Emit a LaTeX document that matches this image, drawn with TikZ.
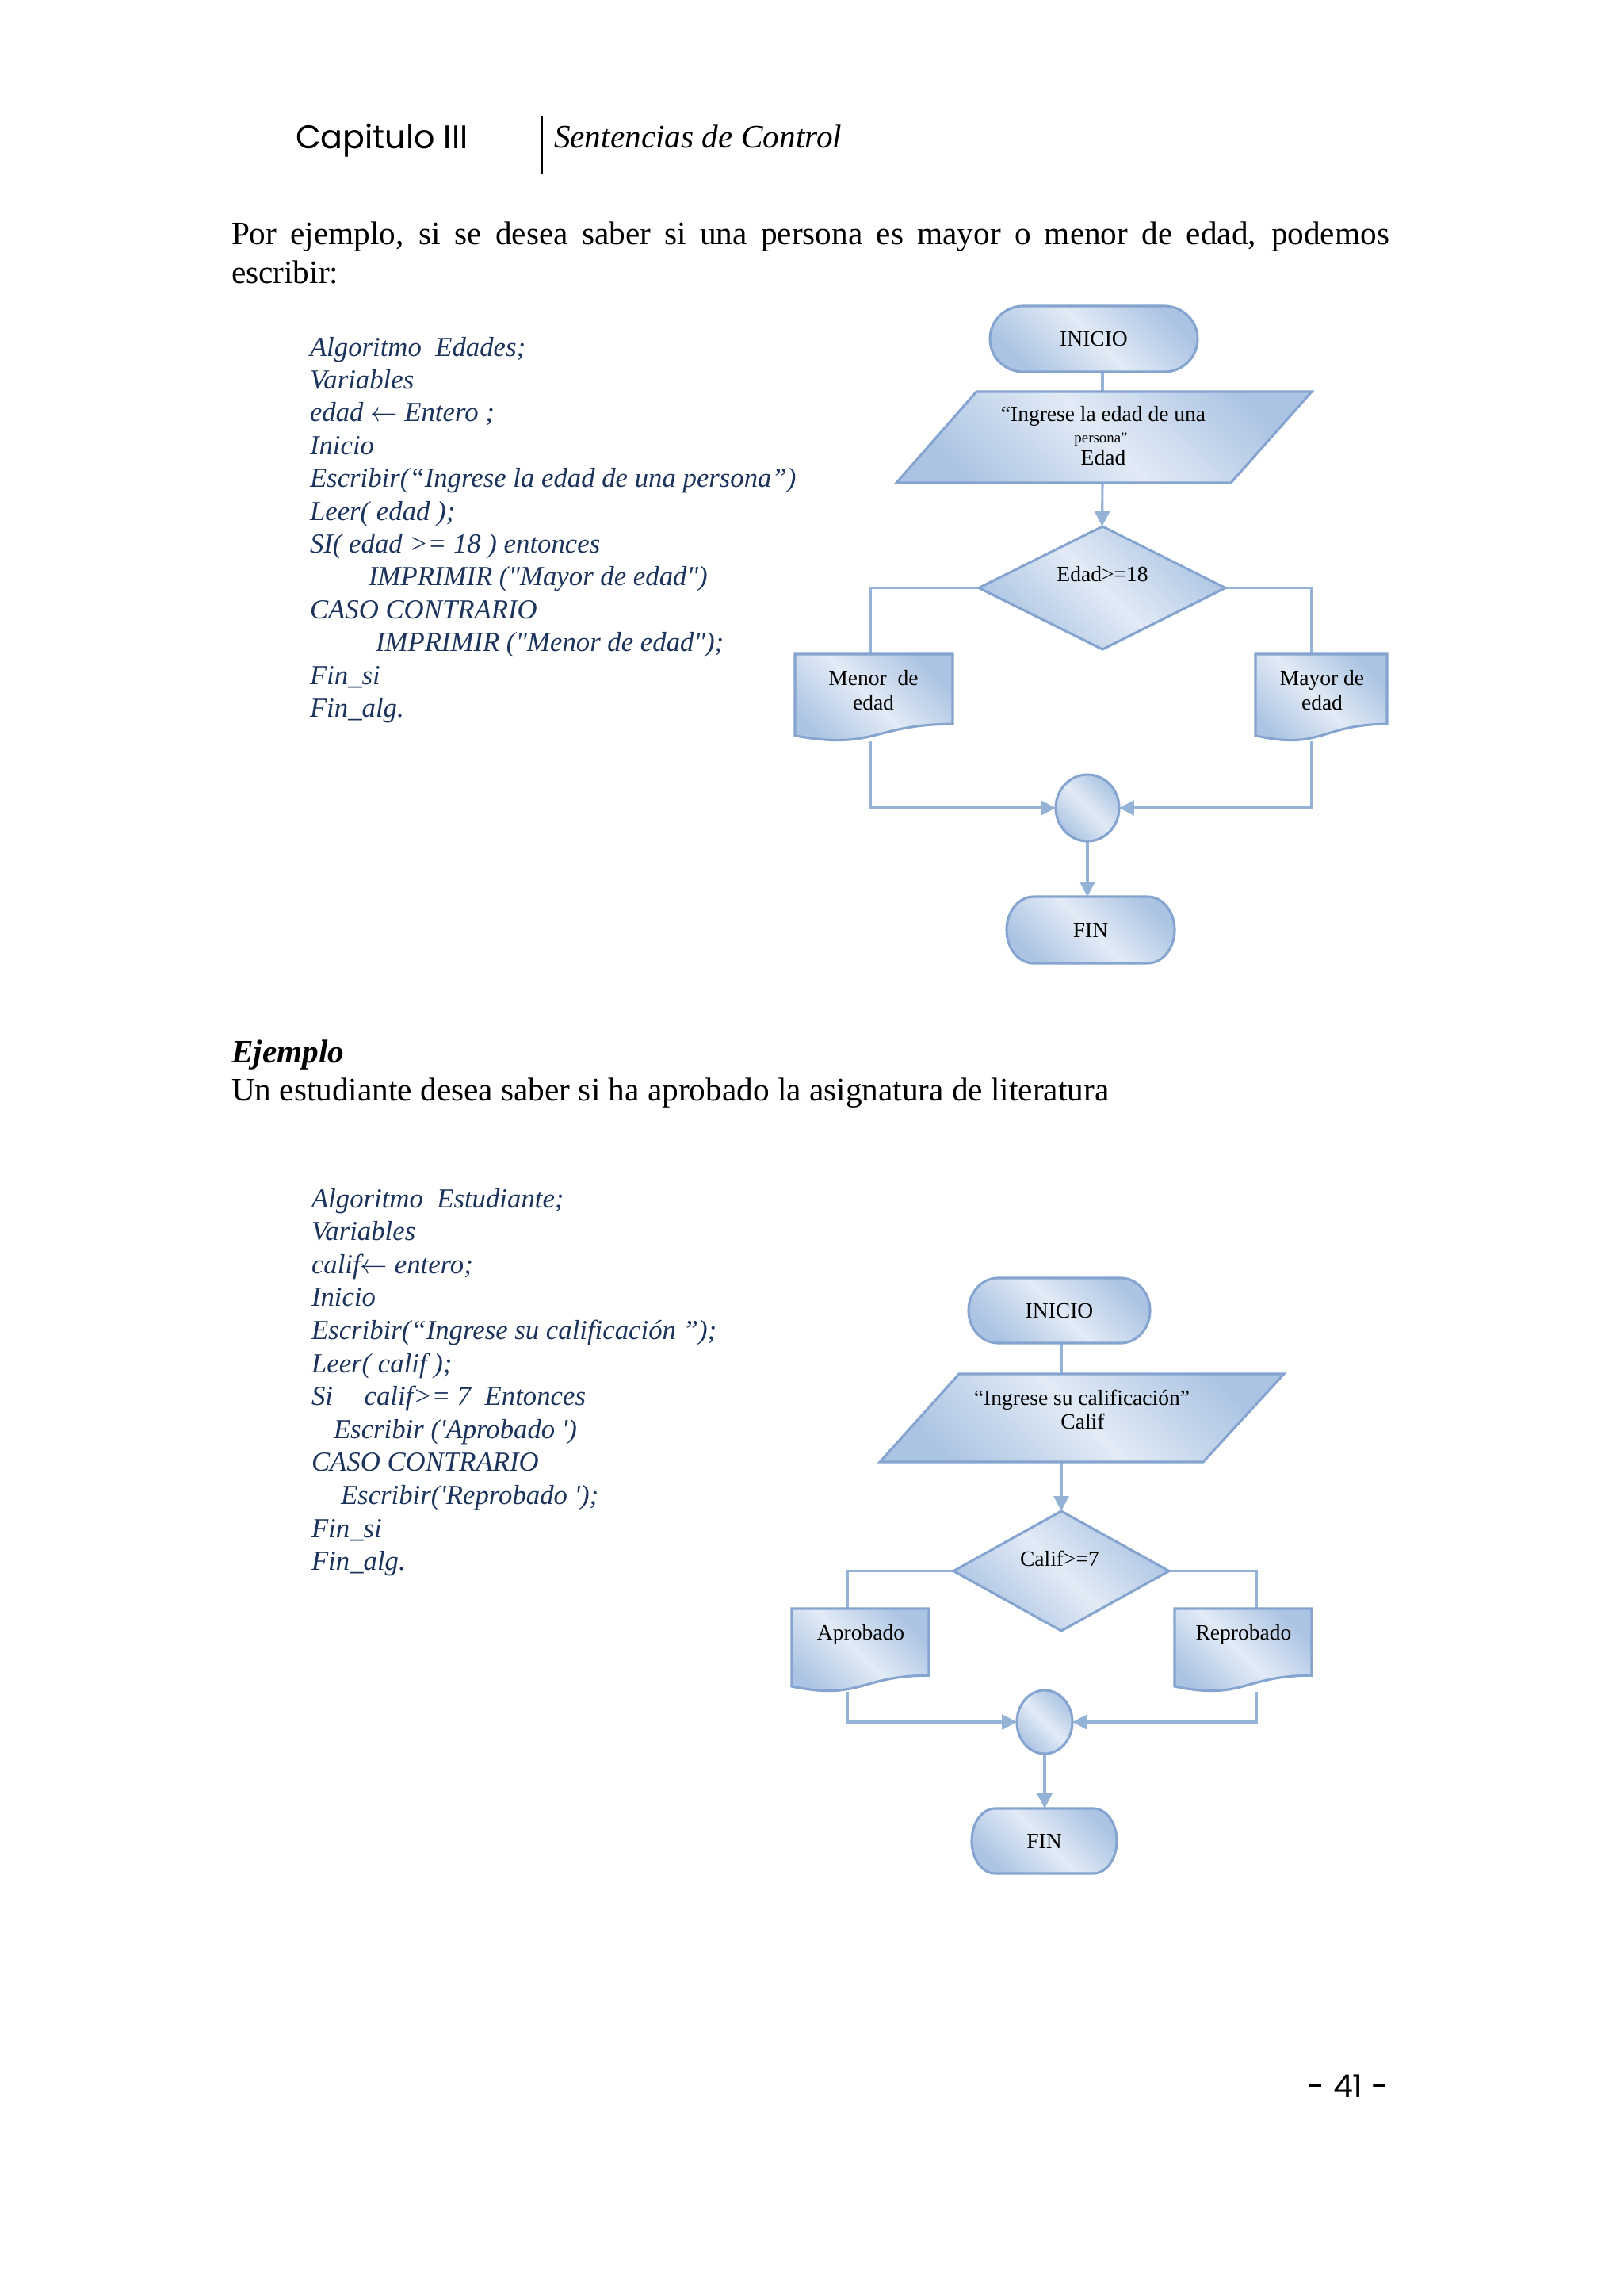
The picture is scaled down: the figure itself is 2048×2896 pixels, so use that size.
\documentclass[tikz,border=0pt]{standalone}
\usepackage{fontspec}
\setmainfont{Liberation Serif}
\newfontfamily\headfont{Poppins}
\newfontfamily\codefont[Ligatures=TeXOff]{Liberation Serif}
\usetikzlibrary{arrows.meta}
\newdimen\px
\px=0.29066pt
\definecolor{lineblue}{RGB}{149,179,215}
\definecolor{edgeblue}{RGB}{133,164,207}
\definecolor{fillL}{RGB}{226,235,246}
\definecolor{fillD}{RGB}{172,196,227}
\definecolor{codeblue}{RGB}{28,52,92}
\pgfdeclarelayer{bg}
\pgfsetlayers{bg,main}
\tikzset{
  shp/.style={draw=edgeblue, line width=0.9pt, top color=fillD, bottom color=fillD, middle color=fillL, shading angle=-45},
  conn/.style={draw=lineblue, line width=0.9pt},
  arr/.style={conn, -{Triangle[length=5.5pt,width=5.5pt]}},
  box/.style={inner sep=0pt, outer sep=0pt},
  fct/.style={box, font=\fontsize{8}{9.6}\selectfont},
  code/.style={box, anchor=base west, text=codeblue, font=\codefont\itshape\fontsize{10.1}{12}\selectfont},
  body/.style={box, anchor=base west, font=\fontsize{12}{14}\selectfont},
}
\newcommand\termpath[5]{%
  \path[shp] ({#1+#5},#2) -- ({#3-#5},#2)
    arc[start angle=90,end angle=-90,x radius={#5*0.29066pt},y radius={(#4-#2)/2*0.29066pt}]
    -- ({#1+#5},#4)
    arc[start angle=270,end angle=90,x radius={#5*0.29066pt},y radius={(#4-#2)/2*0.29066pt}] -- cycle;}
\newcommand\docpath[4]{%
  \path[shp] (#1,#2) -- (#3,#2) -- (#3,{#2+0.802*#4})
    .. controls ({(#1+#3)/2},{#2+0.802*#4}) and ({(#1+#3)/2},{#2+1.107*#4}) .. (#1,{#2+0.934*#4}) -- cycle;}
\begin{document}
\begin{tikzpicture}[x=0.29066pt,y=-0.29066pt]
\useasboundingbox (0,0) rectangle (2048,2896);
\begin{pgfonlayer}{bg}
\fill[white] (0,0) rectangle (2048,2896);
\end{pgfonlayer}

% header
\node[box, anchor=base west, font=\headfont\fontsize{12}{14}\selectfont] (cap) at (373,187) {Capitulo III};
\draw[line width=0.6pt] (684,146) -- (684,220);
\node[box, anchor=base west, font=\itshape\fontsize{12}{14}\selectfont] (sec) at (699,186) {Sentencias de Control};

% body text
\node[body] (par1) at (292,308) {\makebox[1461\px][s]{Por ejemplo, si se desea saber si una persona es mayor o menor de edad, podemos}};
\node[body] (par2) at (292,357) {escribir:};
\node[body, font=\bfseries\itshape\fontsize{12}{14}\selectfont] (ej) at (292,1340) {Ejemplo};
\node[body] (par3) at (292,1388) {Un estudiante desea saber si ha aprobado la asignatura de literatura};
\node[box, anchor=base east, font=\headfont\fontsize{11.5}{13}\selectfont] (pg) at (1752,2645) {- 41 -};

% code 1
\node[code] (a1) at (391,449) {Algoritmo~~Edades;};
\node[code] (a2) at (391,490.4) {Variables};
\node[code] (a3) at (391,531.8) {edad $\leftarrow$ Entero ;};
\node[code] (a4) at (391,573.2) {Inicio};
\node[code] (a5) at (391,614.6) {Escribir(“Ingrese la edad de una persona”)};
\node[code] (a6) at (391,656) {Leer( edad );};
\node[code] (a7) at (391,697.4) {SI( edad >= 18 ) entonces};
\node[code] (a8) at (465,738.8) {IMPRIMIR ("Mayor de edad")};
\node[code] (a9) at (391,780.2) {CASO CONTRARIO};
\node[code] (a10) at (474,821.6) {IMPRIMIR ("Menor de edad");};
\node[code] (a11) at (391,863) {Fin\_si};
\node[code] (a12) at (391,904.4) {Fin\_alg.};

% code 2
\node[code] (b1) at (393,1523) {Algoritmo~~Estudiante;};
\node[code] (b2) at (393,1564.6) {Variables};
\node[code] (b3) at (393,1606.2) {calif$\leftarrow$ entero;};
\node[code] (b4) at (393,1647.8) {Inicio};
\node[code] (b5) at (393,1689.4) {Escribir(“Ingrese su calificación ”);};
\node[code] (b6) at (393,1731) {Leer( calif );};
\node[code] (b7) at (393,1772.6) {Si\hspace{11.5pt}calif>= 7~~Entonces};
\node[code] (b8) at (421,1814.2) {Escribir ('Aprobado ')};
\node[code] (b9) at (393,1855.8) {CASO CONTRARIO};
\node[code] (b10) at (430,1897.4) {Escribir('Reprobado ');};
\node[code] (b11) at (393,1939) {Fin\_si};
\node[code] (b12) at (393,1980.6) {Fin\_alg.};

% ---------- flowchart 1 ----------
\termpath{1249}{386}{1511}{469}{42}
\node[fct, minimum width={262*0.29066pt}, minimum height={83*0.29066pt}] (i1) at (1380,427.5) {INICIO};

\path[shp] (1232,494) -- (1655,494) -- (1553,609) -- (1131,609) -- cycle;
\node[box, minimum width={300*0.29066pt}, minimum height={115*0.29066pt}] (p1) at (1391,551.5) {};
\node[fct, anchor=base] (p1a) at (1392,531) {“Ingrese la edad de una};
\node[box, anchor=base, font=\fontsize{5.5}{6}\selectfont] (p1b) at (1389,558) {persona”};
\node[fct, anchor=base] (p1c) at (1392,586) {Edad};

\path[shp] (1235,741.5) -- (1391,664) -- (1546,741.5) -- (1391,819) -- cycle;
\node[box, minimum width={311*0.29066pt}, minimum height={155*0.29066pt}] (d1) at (1390.5,741.5) {};
\node[fct, anchor=base] (d1t) at (1391,733) {Edad>=18};

\docpath{1003}{825}{1202}{110}
\node[box, minimum width={199*0.29066pt}, minimum height={110*0.29066pt}] (m1) at (1098,880) {};
\node[fct, anchor=base] (m1a) at (1102,864) {Menor\hspace{2pt} de};
\node[fct, anchor=base] (m1b) at (1102,895) {edad};

\docpath{1584}{825}{1750}{110}
\node[box, minimum width={166*0.29066pt}, minimum height={110*0.29066pt}] (y1) at (1655,880) {};
\node[fct, anchor=base] (y1a) at (1668,864) {Mayor de};
\node[fct, anchor=base] (y1b) at (1668,895) {edad};

\path[shp] (1372,1019) ellipse [x radius={40*0.29066pt}, y radius={42*0.29066pt}];
\node[box, minimum width={80*0.29066pt}, minimum height={84*0.29066pt}] (c1) at (1372,1019) {};

\termpath{1270}{1131}{1482}{1215}{34}
\node[fct, minimum width={212*0.29066pt}, minimum height={84*0.29066pt}] (f1) at (1376,1173) {FIN};

% ---------- flowchart 2 ----------
\termpath{1222}{1612}{1451}{1694}{37}
\node[fct, minimum width={229*0.29066pt}, minimum height={82*0.29066pt}] (i2) at (1336.5,1653) {INICIO};

\path[shp] (1210,1733) -- (1620,1733) -- (1518,1844) -- (1110,1844) -- cycle;
\node[box, minimum width={300*0.29066pt}, minimum height={111*0.29066pt}] (p2) at (1339,1788.5) {};
\node[fct, anchor=base] (p2a) at (1365,1772) {“Ingrese su calificación”};
\node[fct, anchor=base] (p2b) at (1366,1802) {Calif};

\path[shp] (1203,1981.5) -- (1339,1906) -- (1475,1981.5) -- (1339,2057) -- cycle;
\node[box, minimum width={272*0.29066pt}, minimum height={151*0.29066pt}] (d2) at (1339,1981.5) {};
\node[fct, anchor=base] (d2t) at (1337,1975) {Calif>=7};

\docpath{999}{2029}{1172}{105}
\node[box, minimum width={173*0.29066pt}, minimum height={105*0.29066pt}] (m2) at (1069,2081.5) {};
\node[fct, anchor=base] (m2a) at (1086,2068) {Aprobado};

\docpath{1482}{2029}{1655}{105}
\node[box, minimum width={173*0.29066pt}, minimum height={105*0.29066pt}] (y2) at (1585,2081.5) {};
\node[fct, anchor=base] (y2a) at (1569,2068) {Reprobado};

\path[shp] (1318,2172) ellipse [x radius={35*0.29066pt}, y radius={40*0.29066pt}];
\node[box, minimum width={70*0.29066pt}, minimum height={80*0.29066pt}] (c2) at (1318,2172) {};

\termpath{1226}{2281}{1409}{2363}{29.5}
\node[fct, minimum width={183*0.29066pt}, minimum height={82*0.29066pt}] (f2) at (1317.5,2322) {FIN};

% ---------- connectors ----------
\begin{pgfonlayer}{bg}
\draw[conn] (i1.south -| p1.north) -- (p1.north);
\draw[arr] (p1.south) -- (d1.north);
\draw[conn] (d1.west) -| (m1.north);
\draw[conn] (d1.east) -| (y1.north);
\draw[arr] (m1) |- (c1.west);
\draw[arr] (y1) |- (c1.east);
\draw[arr] (c1.south) -- (c1.south |- f1.north);

\draw[conn] (i2.south -| p2.north) -- (p2.north);
\draw[arr] (p2.south) -- (d2.north);
\draw[conn] (d2.west) -| (m2.north);
\draw[conn] (d2.east) -| (y2.north);
\draw[arr] (m2) |- (c2.west);
\draw[arr] (y2) |- (c2.east);
\draw[arr] (c2.south) -- (c2.south |- f2.north);
\end{pgfonlayer}
\end{tikzpicture}
\end{document}
